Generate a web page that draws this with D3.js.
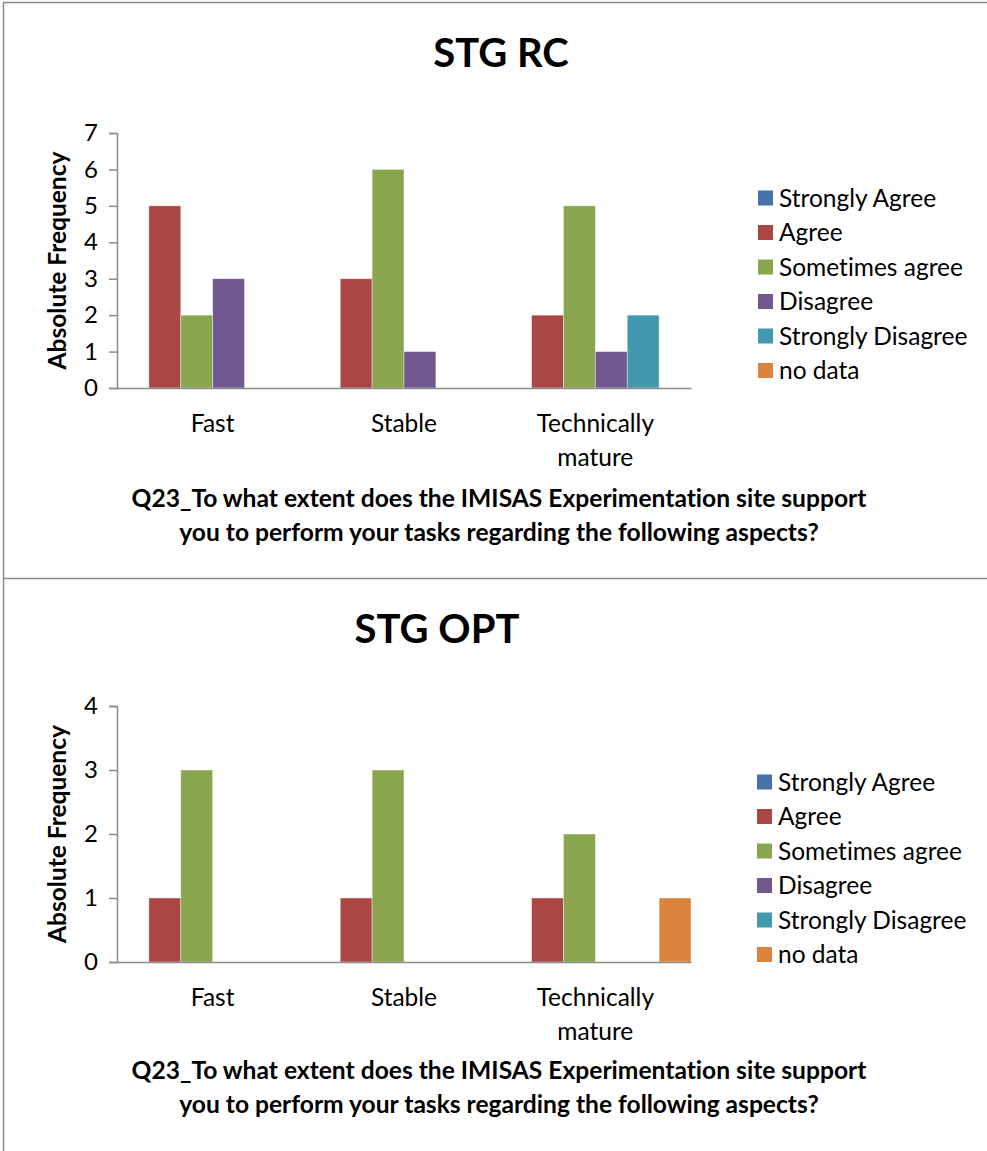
<!DOCTYPE html>
<html><head><meta charset="utf-8">
<script src="https://cdn.jsdelivr.net/npm/d3@7"></script>
<style>
body{margin:0;background:#fff}
svg{display:block}
text{font-family:Lato,"Open Sans",sans-serif;fill:#000;font-variant-ligatures:none;font-feature-settings:"liga" 0,"dlig" 0}
</style>
</head><body>
<svg id="chart" width="987" height="1151"></svg>
<script>
// ---- data ----
const categories = ["Fast", "Stable", "Technically mature"];
const seriesNames = ["Strongly Agree", "Agree", "Sometimes agree", "Disagree", "Strongly Disagree", "no data"];
const seriesColors = ["#4572A7", "#AA4643", "#89A54E", "#71588F", "#4198AF", "#DB843D"];

const rcStronglyAgree    = [0, 0, 0];
const rcAgree            = [5, 3, 2];
const rcSometimesAgree   = [2, 6, 5];
const rcDisagree         = [3, 1, 1];
const rcStronglyDisagree = [0, 0, 2];
const rcNoData           = [0, 0, 0];

const optStronglyAgree    = [0, 0, 0];
const optAgree            = [1, 1, 1];
const optSometimesAgree   = [3, 3, 2];
const optDisagree         = [0, 0, 0];
const optStronglyDisagree = [0, 0, 0];
const optNoData           = [0, 0, 1];

const rcTicks  = [0, 1, 2, 3, 4, 5, 6, 7];
const optTicks = [0, 1, 2, 3, 4];

const rcTitle = "STG RC";
const optTitle = "STG OPT";
const yLabel = "Absolute Frequency";
const questionLines = ["Q23_To what extent does the IMISAS Experimentation site support",
                       "you to perform your tasks regarding the following aspects?"];

// ---- drawing ----
const svg = d3.select("#chart");
const borderColor = "#8c8c8c";

svg.append("line").attr("x1", 3).attr("x2", 987).attr("y1", 2.5).attr("y2", 2.5).attr("stroke", borderColor).attr("stroke-width", 1.5);
svg.append("line").attr("x1", 3.5).attr("x2", 3.5).attr("y1", 2).attr("y2", 1151).attr("stroke", borderColor).attr("stroke-width", 1.5);
svg.append("line").attr("x1", 3).attr("x2", 987).attr("y1", 578.5).attr("y2", 578.5).attr("stroke", borderColor).attr("stroke-width", 1.5);

function drawPanel(cfg) {
  const g = svg.append("g").attr("transform", `translate(0,${cfg.offset})`);
  const series = cfg.series;

  // title
  g.append("text").attr("x", cfg.titleX).attr("y", cfg.titleY)
    .attr("text-anchor", "middle").attr("font-size", 40).attr("font-weight", 700)
    .text(cfg.title);

  const x0 = d3.scaleBand().domain(categories).range([117, 691]).paddingInner(0).paddingOuter(0);
  const x1 = d3.scaleBand().domain(seriesNames).range([0, x0.bandwidth()]).padding(0);
  const y = d3.scaleLinear().domain([0, cfg.max]).range([cfg.bottom, cfg.top]);

  // y axis
  const yAxis = d3.axisLeft(y).tickValues(cfg.ticks).tickSize(8).tickPadding(11).tickFormat(d3.format("d"));
  const ya = g.append("g").attr("transform", "translate(117,0)").call(yAxis);
  ya.select(".domain").attr("stroke", borderColor).attr("stroke-width", 1.5);
  ya.selectAll(".tick line").attr("stroke", borderColor).attr("stroke-width", 1.5);
  ya.selectAll(".tick text").attr("font-size", 24).attr("font-family", "Lato, sans-serif").attr("fill", "#000");

  // bars
  categories.forEach((c, ci) => {
    series.forEach((vals, si) => {
      const v = vals[ci];
      if (v <= 0) return;
      g.append("rect")
        .attr("x", x0(c) + x1(seriesNames[si]))
        .attr("y", y(v))
        .attr("width", x1.bandwidth())
        .attr("height", y(0) - y(v))
        .attr("fill", seriesColors[si])
        .attr("stroke", "#ffffff").attr("stroke-opacity", 0.5).attr("stroke-width", 0.8);
    });
  });

  // x axis line
  const xAxis = d3.axisBottom(x0).tickSize(0).tickFormat("");
  const xa = g.append("g").attr("transform", `translate(0,${cfg.bottom})`).call(xAxis);
  xa.select(".domain").attr("stroke", borderColor).attr("stroke-width", 1.5);

  // x labels
  categories.forEach(c => {
    const words = c === "Technically mature" ? ["Technically", "mature"] : [c];
    words.forEach((w, wi) => {
      g.append("text").attr("x", x0(c) + x0.bandwidth() / 2)
        .attr("y", cfg.bottom + 44 + wi * 34)
        .attr("text-anchor", "middle").attr("font-size", 24.5).text(w);
    });
  });

  // y axis label
  g.append("text")
    .attr("transform", `translate(66,${(cfg.top + cfg.bottom) / 2}) rotate(-90)`)
    .attr("text-anchor", "middle").attr("font-size", 24.5).attr("font-weight", 700)
    .text(yLabel);

  // question text
  questionLines.forEach((t, i) => {
    g.append("text").attr("x", 499).attr("y", cfg.qY + i * 33.5)
      .attr("text-anchor", "middle").attr("font-size", 24.6).attr("font-weight", 700).text(t);
  });

  // legend
  seriesNames.forEach((n, i) => {
    const cy = cfg.legY + i * 34.5;
    g.append("rect").attr("x", cfg.legX).attr("y", cy - 7.5).attr("width", 15).attr("height", 15).attr("fill", seriesColors[i]);
    g.append("text").attr("x", cfg.legX + 21).attr("y", cy + 8.5).attr("font-size", 24.5).text(n);
  });
}

drawPanel({
  offset: 0, title: rcTitle, titleX: 501, titleY: 67,
  top: 133, bottom: 388, max: 7, ticks: rcTicks,
  series: [rcStronglyAgree, rcAgree, rcSometimesAgree, rcDisagree, rcStronglyDisagree, rcNoData],
  legX: 758, legY: 198, qY: 507
});

drawPanel({
  offset: 578, title: optTitle, titleX: 437, titleY: 65,
  top: 128, bottom: 384, max: 4, ticks: optTicks,
  series: [optStronglyAgree, optAgree, optSometimesAgree, optDisagree, optStronglyDisagree, optNoData],
  legX: 757, legY: 204, qY: 501
});
</script>
</body></html>
